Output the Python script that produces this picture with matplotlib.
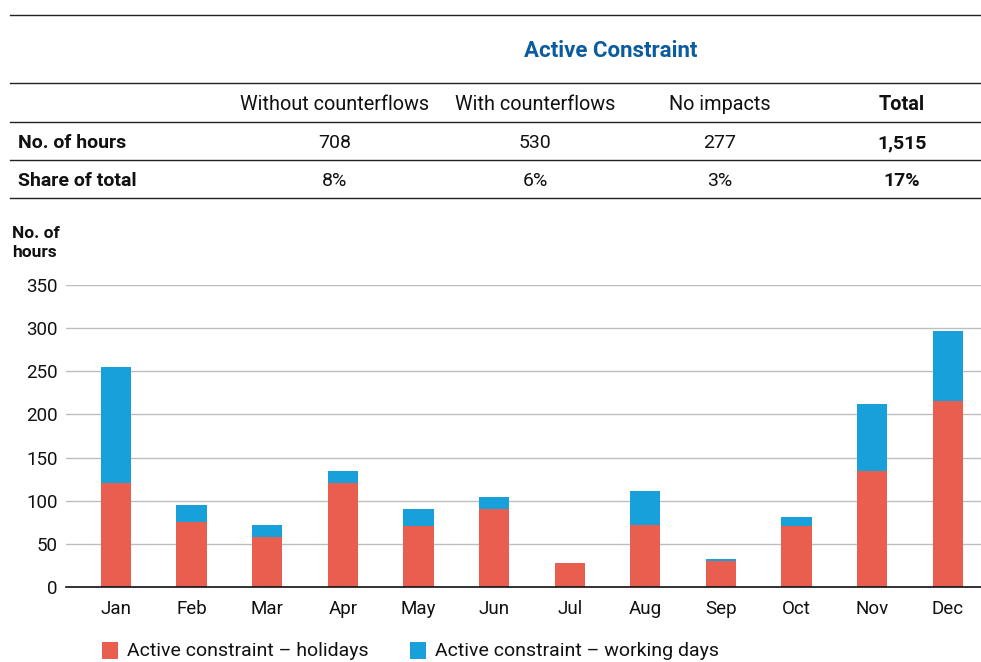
import numpy as np
import matplotlib.pyplot as plt
from matplotlib.lines import Line2D
from matplotlib.patches import Rectangle

plt.rcParams['font.family'] = ['Roboto', 'DejaVu Sans']

# 数据
months = ['Jan', 'Feb', 'Mar', 'Apr', 'May', 'Jun', 'Jul', 'Aug', 'Sep', 'Oct', 'Nov', 'Dec']
holidays = [120, 75, 58, 120, 71, 90, 28, 72, 30, 71, 135, 216]
working_days = [135, 20, 14, 15, 19, 14, 0, 39, 3, 10, 77, 81]

table_columns = ['Without counterflows', 'With counterflows', 'No impacts', 'Total']
table_rows = ['No. of hours', 'Share of total']
hours_values = ['708', '530', '277', '1,515']
share_values = ['8%', '6%', '3%', '17%']

red = '#EA5E4F'
blue = '#18A0DB'
title_blue = '#0B5C9E'

W, H = 981, 662
fig = plt.figure(figsize=(W / 100, H / 100), dpi=100)


def fx(px):
    return px / W


def fy(py):
    return 1 - py / H


# --- 表格部分 ---
for y in [15, 83, 122, 160, 198]:
    fig.add_artist(Line2D([fx(10), 1.0], [fy(y), fy(y)], color='#222222', lw=1.0))

fig.text(fx(611), fy(51), 'Active Constraint', color=title_blue, fontsize=16,
         fontweight='bold', ha='center', va='center')

col_x = [335, 535, 720, 902]
for i, c in enumerate(table_columns):
    fig.text(fx(col_x[i]), fy(104), c, fontsize=14.3, ha='center', va='center',
             fontweight='bold' if c == 'Total' else 'normal', color='#111111')

row_y = [143, 181]
for r, vals in zip(range(2), [hours_values, share_values]):
    fig.text(fx(18), fy(row_y[r]), table_rows[r], fontsize=14, fontweight='bold',
             ha='left', va='center', color='#111111')
    for i, v in enumerate(vals):
        fig.text(fx(col_x[i]), fy(row_y[r]), v, fontsize=14, ha='center', va='center',
                 fontweight='bold' if i == 3 else 'normal', color='#111111')

# --- 柱状图 ---
ax = fig.add_axes([fx(66), fy(587), fx(981) - fx(66), fy(285) - fy(587)])
x = np.arange(len(months))
ax.bar(x, holidays, width=0.4, color=red, zorder=3)
ax.bar(x, working_days, width=0.4, bottom=holidays, color=blue, zorder=3)

ax.set_xlim(-0.66, 11.44)
ax.set_ylim(0, 350)
ax.set_yticks(range(0, 351, 50))
ax.set_xticks(x)
ax.set_xticklabels(months)
ax.tick_params(axis='both', length=0, labelsize=13.5, colors='#111111')
ax.tick_params(axis='y', pad=6)
ax.tick_params(axis='x', pad=9)
ax.grid(axis='y', color='#bdbdbd', lw=1.0, zorder=0)
for s in ['top', 'right', 'left']:
    ax.spines[s].set_visible(False)
ax.spines['bottom'].set_color('#111111')
ax.spines['bottom'].set_linewidth(1.2)
ax.spines['bottom'].set_zorder(4)

fig.text(fx(12), fy(243), 'No. of\nhours', fontsize=12.5, fontweight='bold',
         ha='left', va='center', linespacing=1.3, color='#111111')

# --- 图例 ---
for px, color, label in [(102, red, 'Active constraint \u2013 holidays'),
                         (410, blue, 'Active constraint \u2013 working days')]:
    fig.add_artist(Rectangle((fx(px), fy(659)), fx(16), fy(642) - fy(659),
                             facecolor=color, edgecolor='none', transform=fig.transFigure))
    fig.text(fx(px + 25), fy(651), label, fontsize=14, ha='left', va='center', color='#111111')

plt.savefig('out.png', dpi=100)
